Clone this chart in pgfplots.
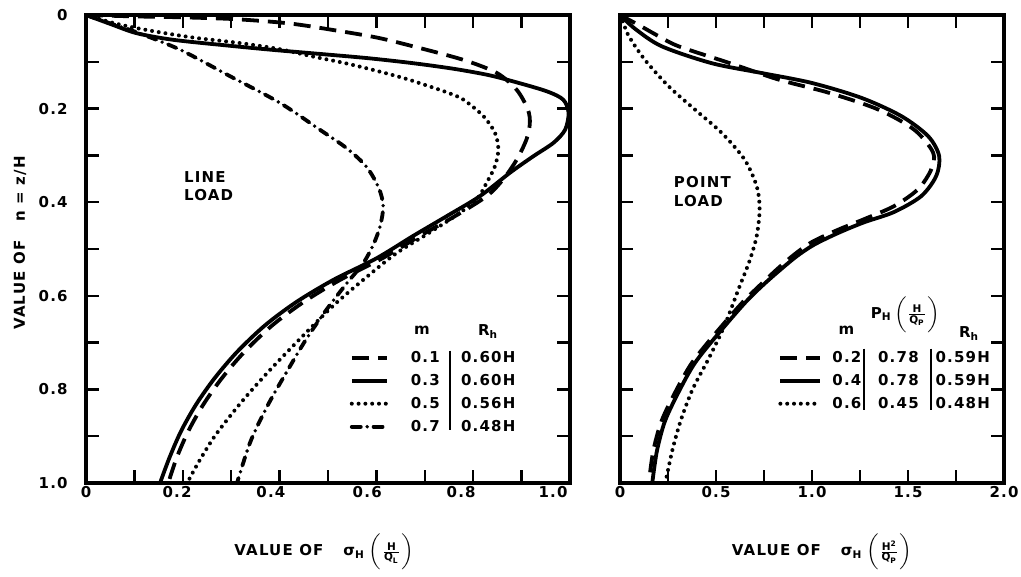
\documentclass[border=0pt]{standalone}
\usepackage{fontspec}
\setmainfont{DejaVu Sans}[LetterSpace=8]
\usepackage{amsmath}
\usepackage{pgfplots}
\pgfplotsset{compat=1.18}
\newcommand\lbl{\fontsize{7.5}{9.25}\selectfont\bfseries}
\tikzset{
  c dash/.style={line width=1.9pt, dash pattern=on 8.5pt off 4.5pt},
  c solid/.style={line width=1.9pt, solid},
  c dot/.style={line width=2pt, line cap=round, dash pattern=on 0pt off 3.4pt},
  c dashdot/.style={line width=1.9pt, line cap=round, dash pattern=on 4.5pt off 3.2pt on 0pt off 3.2pt},
}
\pgfplotsset{
  panel/.style={
    scale only axis, height=234pt,
    y dir=reverse, ymin=0, ymax=1,
    axis line style={line width=2pt},
    tick align=inside, tick pos=both,
    major tick length=6.5pt, minor tick length=6.5pt,
    every tick/.append style={line width=1.2pt, black},
    ytick={0,0.2,0.4,0.6,0.8,1}, minor ytick={0.1,0.3,0.5,0.7,0.9},
    tick label style={font=\lbl},
    yticklabel style={anchor=east, inner sep=0pt, xshift=-9pt},
    xticklabel style={anchor=base, inner sep=0pt, yshift=-7pt},
    label style={font=\lbl},
    legend cell align=left,
    legend style={draw=none, fill=none, inner sep=0pt, outer sep=0pt, row sep=0pt, font=\lbl,
      nodes={inner sep=0pt, text height=8pt, text depth=3.5pt}},
  }
}
\begin{document}
\begin{tikzpicture}
\useasboundingbox (0,0) rectangle (510.5pt,288.5pt);
% ---------------- LINE LOAD ----------------
\begin{axis}[panel, at={(43pt,47pt)}, anchor=south west, width=242pt,
  xmin=0, xmax=1,
  xtick={0.1,0.2,0.3,0.4,0.5,0.6,0.7,0.8,0.9}, xticklabels={},
  extra x ticks={0,0.188,0.382,0.581,0.775,0.965},
  extra x tick labels={0,0.2,0.4,0.6,0.8,1.0},
  extra x tick style={major tick length=0pt},
  yticklabels={0,0.2,0.4,0.6,0.8,1.0},
  xlabel={VALUE OF\hspace{10pt}σ\textsubscript{H}\hspace{2pt}$\biggl(\frac{\text{H}}{\text{Q}_{\text{L}}}\biggr)$},
  xlabel style={at={(axis cs:0.492,1.155)}, anchor=base},
  ylabel={VALUE OF\ \ \ n = z/H},
  ylabel style={at={(axis cs:-0.1364,0.487)}, anchor=center},
  legend style={at={(axis cs:0.545,0.7077)}, anchor=north west, column sep=11pt},
  legend image code/.code={\draw[#1] (0pt,0pt) -- (17.5pt,0pt);},
]
\addplot[c dash, smooth] table {
0 0
0.10 0.003
0.20 0.005
0.31 0.009
0.42 0.018
0.51 0.032
0.60 0.048
0.676 0.067
0.78 0.096
0.849 0.124
0.89 0.160
0.913 0.202
0.917 0.232
0.910 0.266
0.890 0.309
0.862 0.351
0.828 0.387
0.762 0.430
0.69 0.472
0.612 0.520
0.525 0.566
0.450 0.613
0.385 0.663
0.327 0.720
0.280 0.777
0.242 0.833
0.211 0.890
0.187 0.947
0.170 1.0
};
\addlegendentry{0.1}
\addplot[c solid, smooth] table {
0 0
0.05 0.019
0.105 0.039
0.18 0.053
0.29 0.065
0.38 0.074
0.47 0.082
0.58 0.092
0.676 0.103
0.76 0.115
0.83 0.128
0.883 0.142
0.952 0.163
0.986 0.181
0.997 0.209
0.990 0.245
0.966 0.273
0.924 0.302
0.876 0.337
0.814 0.387
0.745 0.430
0.676 0.472
0.600 0.520
0.511 0.566
0.435 0.613
0.370 0.663
0.312 0.720
0.265 0.777
0.227 0.833
0.196 0.890
0.172 0.947
0.153 1.0
};
\addlegendentry{0.3}
\addplot[c dot, smooth] table {
0 0
0.06 0.018
0.125 0.032
0.22 0.048
0.318 0.060
0.40 0.073
0.470 0.089
0.54 0.104
0.607 0.121
0.66 0.136
0.711 0.153
0.750 0.167
0.780 0.181
0.821 0.216
0.845 0.252
0.852 0.287
0.845 0.323
0.828 0.358
0.807 0.394
0.765 0.428
0.705 0.468
0.640 0.510
0.575 0.564
0.512 0.620
0.443 0.691
0.377 0.762
0.322 0.826
0.268 0.897
0.234 0.953
0.209 1.0
};
\addlegendentry{0.5}
\addplot[c dashdot, smooth] table {
0 0
0.05 0.018
0.105 0.037
0.194 0.074
0.298 0.131
0.401 0.188
0.483 0.245
0.539 0.285
0.580 0.325
0.605 0.370
0.614 0.408
0.608 0.450
0.594 0.490
0.573 0.530
0.539 0.573
0.498 0.628
0.456 0.691
0.415 0.762
0.376 0.833
0.340 0.911
0.312 1.0
};
\addlegendentry{0.7}
\node[font=\lbl, anchor=west, align=left] at (axis cs:0.188,0.366) {LINE\\LOAD};
\node[font=\lbl] at (axis cs:0.694,0.674) {m};
\node[font=\lbl] at (axis cs:0.831,0.677) {R\textsubscript{h}};
\node[font=\lbl] at (axis cs:0.831,0.730) {0.60H};
\node[font=\lbl] at (axis cs:0.831,0.779) {0.60H};
\node[font=\lbl] at (axis cs:0.831,0.830) {0.56H};
\node[font=\lbl] at (axis cs:0.831,0.879) {0.48H};
\draw[line width=1pt] (axis cs:0.752,0.717) -- (axis cs:0.752,0.887);
\end{axis}
% ---------------- POINT LOAD ----------------
\begin{axis}[panel, at={(310pt,47pt)}, anchor=south west, width=192pt,
  xmin=0, xmax=2,
  xtick={0,0.5,1,1.5,2}, xticklabels={0,0.5,1.0,1.5,2.0},
  minor xtick={0.25,0.75,1.25,1.75},
  yticklabels={},
  xlabel={VALUE OF\hspace{10pt}σ\textsubscript{H}\hspace{2pt}$\biggl(\frac{\text{H}^{\text{2}}}{\text{Q}_{\text{P}}}\biggr)$},
  xlabel style={at={(axis cs:1.052,1.155)}, anchor=base},
  legend style={at={(axis cs:0.825,0.7077)}, anchor=north west, column sep=5pt},
  legend image code/.code={\draw[#1] (0pt,0pt) -- (20pt,0pt);},
]
\addplot[c dash, smooth] table {
0 0
0.10 0.022
0.20 0.045
0.306 0.067
0.566 0.102
0.826 0.138
1.086 0.166
1.345 0.202
1.532 0.245
1.631 0.294
1.621 0.330
1.553 0.372
1.429 0.408
1.273 0.436
1.135 0.459
1.0 0.485
0.907 0.512
0.824 0.541
0.730 0.577
0.636 0.615
0.500 0.679
0.375 0.743
0.289 0.805
0.216 0.868
0.173 0.932
0.150 1.0
};
\addlegendentry{0.2}
\addplot[c solid, smooth] table {
0 0
0.08 0.030
0.218 0.067
0.478 0.103
0.738 0.124
0.997 0.145
1.257 0.177
1.465 0.216
1.605 0.259
1.662 0.301
1.647 0.344
1.569 0.387
1.427 0.421
1.271 0.443
1.135 0.466
1.010 0.491
0.922 0.515
0.839 0.543
0.745 0.577
0.651 0.615
0.516 0.679
0.391 0.743
0.306 0.805
0.234 0.868
0.192 0.932
0.168 1.0
};
\addlegendentry{0.4}
\addplot[c dot, smooth] table {
0 0
0.02 0.02
0.047 0.046
0.130 0.096
0.255 0.153
0.390 0.202
0.530 0.252
0.649 0.309
0.712 0.366
0.727 0.415
0.712 0.472
0.675 0.525
0.618 0.585
0.545 0.663
0.462 0.734
0.380 0.798
0.320 0.862
0.275 0.926
0.236 1.0
};
\addlegendentry{0.6}
\node[font=\lbl, anchor=west, align=left] at (axis cs:0.244,0.377) {POINT\\LOAD};
\node[font=\lbl] at (axis cs:1.179,0.674) {m};
\node[font=\lbl] at (axis cs:1.486,0.640) {P\textsubscript{H}\,$\biggl(\frac{\text{H}}{\text{Q}_{\text{P}}}\biggr)$};
\node[font=\lbl] at (axis cs:1.818,0.681) {R\textsubscript{h}};
\node[font=\lbl] at (axis cs:1.450,0.730) {0.78};
\node[font=\lbl] at (axis cs:1.450,0.779) {0.78};
\node[font=\lbl] at (axis cs:1.450,0.830) {0.45};
\node[font=\lbl] at (axis cs:1.785,0.730) {0.59H};
\node[font=\lbl] at (axis cs:1.785,0.779) {0.59H};
\node[font=\lbl] at (axis cs:1.785,0.830) {0.48H};
\draw[line width=1pt] (axis cs:1.273,0.713) -- (axis cs:1.273,0.845);
\draw[line width=1pt] (axis cs:1.621,0.713) -- (axis cs:1.621,0.845);
\end{axis}
\end{tikzpicture}
\end{document}
